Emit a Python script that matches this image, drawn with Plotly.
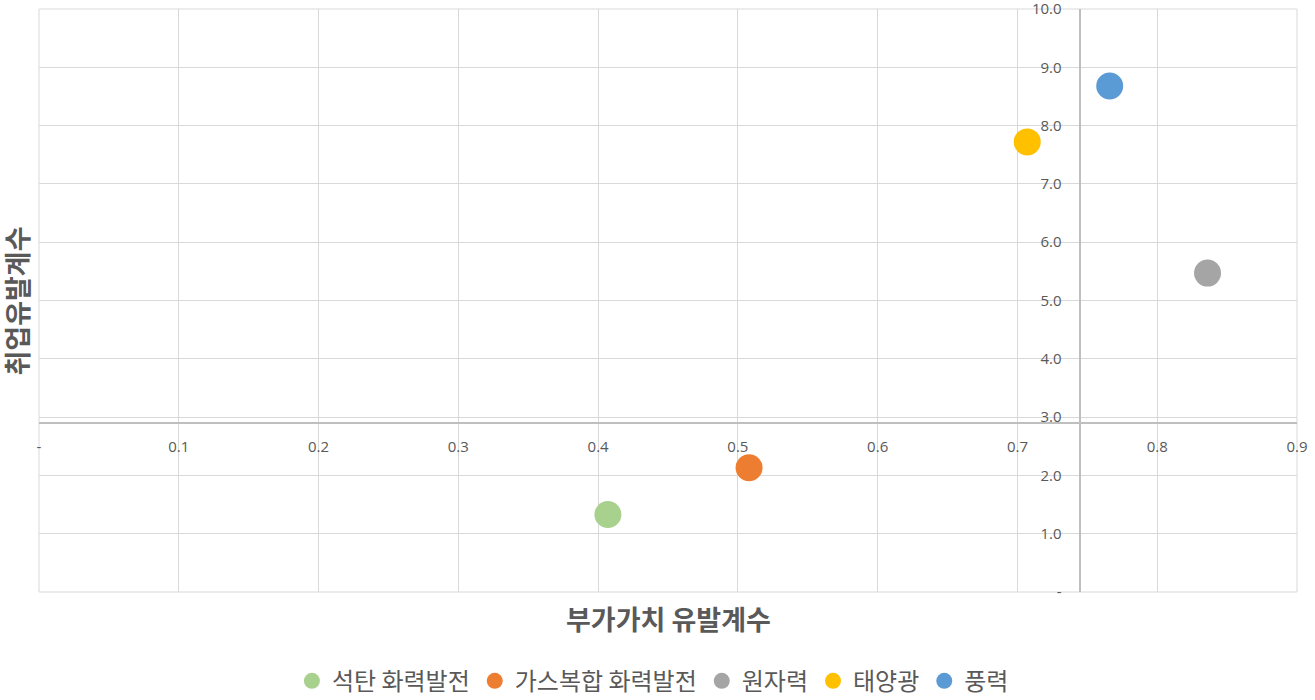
import plotly.graph_objects as go

# 발전원별 부가가치 / 취업 유발계수
sources = ['석탄 화력발전', '가스복합 화력발전', '원자력', '태양광', '풍력']
value_added = [0.407, 0.508, 0.836, 0.707, 0.766]
employment = [1.33, 2.13, 5.47, 7.72, 8.68]
colors = ['#A9D18E', '#ED7D31', '#A5A5A5', '#FFC000', '#5B9BD5']

x_ticks = [0, 0.1, 0.2, 0.3, 0.4, 0.5, 0.6, 0.7, 0.8, 0.9]
x_labels = ['-'] + [f'{v:.1f}' for v in x_ticks[1:]]
y_ticks = list(range(0, 11))
y_labels = ['-'] + [f'{v:.1f}' for v in y_ticks[1:]]

# axes cross point (Excel style)
x_cross = 0.745
y_cross = 2.9
x_max = 0.9
y_max = 10

font_kr = 'Noto Sans CJK KR'
grey_txt = '#595959'

fig = go.Figure()
for name, xv, yv, c in zip(sources, value_added, employment, colors):
    fig.add_trace(go.Scatter(
        x=[xv], y=[yv], mode='markers', name=name,
        marker=dict(size=27, color=c),
    ))

fig.update_layout(
    width=1315, height=700,
    margin=dict(l=39, r=18, t=9, b=108, autoexpand=False),
    plot_bgcolor='white', paper_bgcolor='white',
    font=dict(family=font_kr, color=grey_txt),
    showlegend=True,
    legend=dict(orientation='h', x=0.488, xanchor='center', y=-0.153, yanchor='middle',
                font=dict(size=24, color=grey_txt), itemwidth=30,
                traceorder='normal'),
    xaxis=dict(range=[0, x_max], tickvals=x_ticks, ticktext=x_labels,
               showgrid=True, gridcolor='#D9D9D9', zeroline=False,
               showline=True, linecolor='#BFBFBF', linewidth=1.5,
               anchor='free', position=y_cross / y_max, automargin=False,
               ticks='', ticklabelstandoff=10, ticklabeloverflow='allow',
               tickfont=dict(size=15, color=grey_txt, family='Open Sans')),
    yaxis=dict(range=[0, y_max], tickvals=y_ticks, ticktext=y_labels,
               showgrid=True, gridcolor='#D9D9D9', zeroline=False,
               showline=True, linecolor='#BFBFBF', linewidth=1.5,
               anchor='free', position=x_cross / x_max, side='left', automargin=False,
               ticks='', ticklabelstandoff=15, ticklabeloverflow='allow',
               tickfont=dict(size=15, color=grey_txt, family='Open Sans')),
)

# plot area border
fig.add_shape(type='rect', xref='paper', yref='paper', x0=0, y0=0, x1=1, y1=1,
              line=dict(color='#D9D9D9', width=1), layer='below')

# axis titles
fig.add_annotation(text='<b>부가가치 유발계수</b>', xref='paper', yref='paper',
                   x=0.5, y=-0.045, xanchor='center', yanchor='middle', showarrow=False,
                   font=dict(size=27, color=grey_txt, family=font_kr))
fig.add_annotation(text='<b>취업유발계수</b>', xref='paper', yref='paper',
                   x=-0.0175, y=0.5, xanchor='center', yanchor='middle', showarrow=False,
                   textangle=-90,
                   font=dict(size=27, color=grey_txt, family=font_kr))

# page body has a default 8px margin; drop it so the figure fills the window
fig.write_html('out.html', config={'displayModeBar': False},
               post_script="document.body.style.margin='0';")
